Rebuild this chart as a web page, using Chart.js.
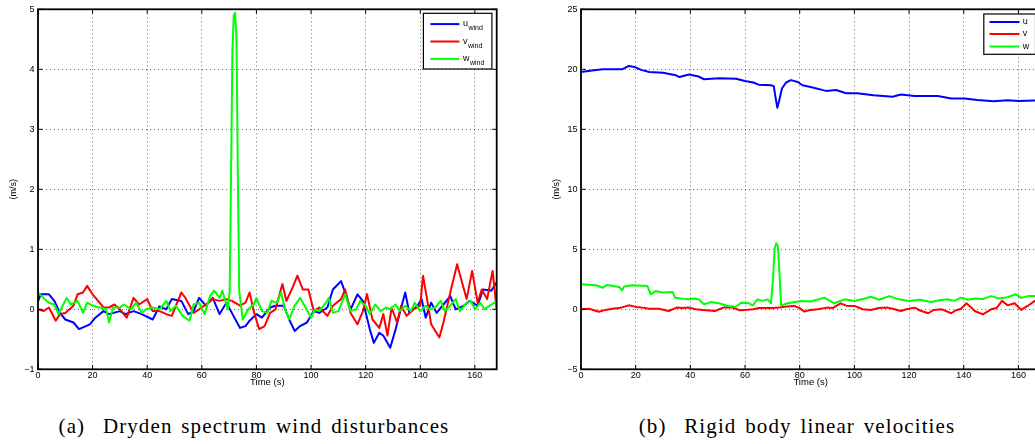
<!DOCTYPE html>
<html>
<head>
<meta charset="utf-8">
<script src="https://cdn.jsdelivr.net/npm/chart.js@4.4.0/dist/chart.umd.min.js"></script>
<style>
  html, body { margin: 0; padding: 0; background: #fff; overflow: hidden; width: 1035px; height: 444px; }
  .panel { position: absolute; top: 0; width: 520px; height: 388px; }
  .caption { position: absolute; top: 416px; line-height: 21px; font-family: 'Liberation Serif', serif; font-size: 21px; letter-spacing: 1.1px; word-spacing: 2.5px; white-space: nowrap; transform: translateX(-50%); color: #000; }
</style>
</head>
<body>
<div class="panel" style="left:0"><canvas id="windChart"></canvas></div>
<div class="panel" style="left:543px"><canvas id="bodyChart"></canvas></div>
<div class="caption" style="left:254px">(a)&nbsp; Dryden spectrum wind disturbances</div>
<div class="caption" style="left:797px">(b)&nbsp; Rigid body linear velocities</div>
<script>
// --- (a) Dryden wind disturbances ---
const uWindT = [0,1,4,6,8,10,13,15,16.5,19,21,24,26,30,32,35,38,42,44.5,47,49,52.5,55,57,59,61.5,64,66.5,69,71,74,76,77.5,80,82,85,87,90,92,94,96,98.5,101,103,106,108,111,112.5,114.5,117,119,121.5,123,125,126.5,129,131,132.5,134.5,136,139,140.5,142,144,146,148.5,151,153,156,158,161,163,166,168];
const uWind = [0.13,0.25,0.25,0.14,-0.06,-0.17,-0.22,-0.33,-0.30,-0.25,-0.14,-0.03,-0.08,-0.03,-0.08,-0.03,-0.08,-0.17,0.05,0.0,0.17,0.14,-0.08,-0.03,0.19,0.06,0.19,-0.08,0.11,-0.06,-0.31,-0.28,-0.19,-0.08,-0.14,0.03,0.06,0.06,-0.17,-0.36,-0.28,-0.22,-0.03,-0.06,0.03,0.33,0.47,0.28,0.0,0.25,0.14,-0.33,-0.56,-0.39,-0.44,-0.64,-0.33,-0.06,0.28,-0.06,0.06,0.17,-0.14,0.11,-0.06,0.08,0.22,0.0,0.06,0.14,0.06,0.33,0.31,0.45];

const vWindT = [0,2,4,6.5,8,10,13,14.5,16.5,18,20,22,24,26,28,30,32.5,35,37,40,42,44.5,47,49,52.5,54,57,59,61.5,64,66.5,69,71,74,76,77.5,79,81,83,85,87,89.5,91,93.5,95,97,99,101,103,106,108,111,112.5,114.5,117,119,120.5,122.5,125,126.5,128,129.5,131.5,133,135,137.5,140,141,142.5,144,147,148.5,151,153.5,155,157,159,161,162.5,164.5,166.5,168];
const vWind = [0.0,-0.03,0.03,-0.19,-0.08,-0.06,0.06,0.25,0.28,0.39,0.25,0.14,0.03,0.03,0.08,0.0,-0.14,0.19,0.08,0.17,-0.03,-0.03,-0.08,-0.11,0.28,0.19,-0.06,0.0,0.08,0.17,0.14,0.17,0.14,0.06,0.11,0.28,-0.03,-0.33,-0.28,-0.06,0.0,0.42,0.14,0.39,0.56,0.33,0.33,-0.03,0.03,-0.11,0.06,0.17,0.33,-0.06,-0.25,-0.03,0.25,-0.17,-0.31,-0.08,-0.44,0.03,-0.22,0.06,-0.11,0.0,0.06,0.56,0.17,-0.25,-0.47,-0.22,0.28,0.75,0.5,0.17,0.64,0.11,0.33,0.17,0.64,0.0];

const wWindT = [0,2,4,6,7.5,9,10.5,12,14.5,16.5,18,20,22.5,25,26,27.5,30,31.5,34,36,38,39.5,42,44.5,47,48.5,50.5,53,55.5,57,59,61,63,64.5,66.5,67.5,69.5,70.2,70.7,71.2,71.7,72.2,72.7,73.2,73.7,75,77,79,80,82,84,85.5,87.5,89,90.5,92,94,96,98,100,101.5,103,105.5,106.5,108,110,112.5,114.5,116.5,118,120,121.5,123.5,125.5,127.5,129,131,132.5,134.5,136.5,138,140,142,143.5,145.5,147.5,149,151,153,154.5,156.5,158.5,160,162,163.5,165.5,168];
const wWind = [0.28,0.19,0.11,0.08,-0.08,0.06,0.19,0.08,0.14,-0.06,0.11,0.06,0.03,0.0,-0.22,0.03,0.03,0.08,0.0,0.11,-0.06,0.0,0.03,0.0,0.14,-0.03,0.06,-0.11,-0.19,0.08,0.11,-0.08,0.22,0.31,0.19,0.31,0.0,0.3,2.2,4.3,4.9,4.94,4.5,2.2,0.3,-0.17,0.0,0.08,0.19,-0.03,-0.06,0.14,0.11,0.28,0.0,-0.17,0.06,0.19,0.03,-0.14,0.0,-0.03,0.11,0.19,-0.06,-0.03,0.25,-0.03,0.0,0.14,0.06,-0.08,0.08,-0.03,0.03,0.0,0.08,-0.03,0.06,-0.03,0.11,-0.03,0.06,0.0,0.03,0.14,-0.03,0.06,0.17,-0.03,0.08,0.14,0.0,0.11,0.0,0.06,0.14];

// --- (b) rigid body linear velocities ---
const uBodyT = [0,4,8,12,15,17.5,19.5,22,25,30,34.7,36,39.5,43,45,50.5,56.7,60,63,65,69.5,70.5,71.2,71.8,72.5,73.5,75,76.8,79.3,81,84,89.6,93.3,97,101,107,114,117,122,130.5,135.5,140.3,145,151,156,160,166,168];
const uBody = [19.78,19.9,20.0,20.0,20.0,20.28,20.2,19.95,19.78,19.72,19.5,19.36,19.56,19.4,19.17,19.25,19.22,19.03,18.9,18.72,18.67,18.6,17.6,16.8,17.4,18.4,18.9,19.1,18.94,18.67,18.53,18.2,18.28,18.0,18.0,17.83,17.72,17.9,17.78,17.78,17.56,17.56,17.44,17.33,17.42,17.36,17.39,17.4];

const vBodyT = [0,3,6.5,9,11.5,14,17.5,20,22.5,25,28.5,32,35,37,39.5,42,44.5,47,49,52,55.5,58,60,63,65,67.5,70,72.5,74.4,78,80,81.7,84,86.6,90,92,95,97,100,103,106,109,112,114,117,119,122,124,127,129,132,135.4,137,139,141,142.5,144,147,150,152,154,156,158.6,161,163.5,166,168];
const vBody = [0.0,0.05,-0.2,-0.05,0.05,0.1,0.33,0.2,0.14,0.05,0.05,-0.14,0.14,0.1,0.14,0.0,-0.05,-0.1,-0.14,0.14,0.14,-0.08,-0.05,0.0,0.1,0.1,0.1,0.14,0.22,0.28,0.1,-0.19,-0.05,0.0,0.14,0.1,0.5,0.3,0.28,0.0,-0.05,0.1,0.14,0.05,-0.14,0.0,0.14,-0.1,-0.33,-0.05,0.0,-0.33,-0.1,0.05,0.5,0.2,-0.14,-0.42,0.0,0.1,0.7,0.33,0.5,-0.05,0.3,0.7,0.9];

const wBodyT = [0,5.4,8,9.6,14,15,15.8,18.8,24.3,25.5,27.4,30,33.5,34.4,37,39.5,41.4,43,45,47.5,50.5,53.6,56.7,58.5,61.5,62.8,64.6,66.4,68.3,69.5,70.2,70.8,71.4,72,72.6,73.2,75.6,80.5,84,89,92.7,96.4,100,103,106,109,112.8,116,119.6,124,128,131,134,136.5,139,141.5,144,147,150,153,156,159,161,163.5,166,168];
const wBody = [2.08,2.0,1.8,2.03,1.86,1.58,1.9,2.0,1.94,1.25,1.53,1.39,1.45,0.97,0.89,0.83,0.9,0.83,0.42,0.6,0.5,0.28,0.22,0.55,0.5,0.33,0.83,0.7,0.83,0.5,2.5,5.0,5.5,5.3,3.0,0.33,0.5,0.7,0.65,0.97,0.5,0.83,0.7,0.85,1.05,0.8,1.1,0.85,0.7,0.8,0.6,0.75,0.83,0.7,0.97,0.8,0.9,0.85,1.1,0.9,1.0,1.25,0.95,1.1,1.1,1.05];

const seriesColors = ['#0000ff', '#ff0000', '#00ff00'];
const windLabels = ['u', 'v', 'w'];
const bodyLabels = ['u', 'v', 'w'];
const timeMax = 168;

const toPoints = (t, v) => t.map((ti, i) => ({ x: ti, y: v[i] }));

// MATLAB style box, inward ticks and legend
const matlabFrame = {
  id: 'matlabFrame',
  afterDraw(chart, args, opts) {
    const { ctx, chartArea: a, scales: { x, y } } = chart;
    ctx.save();
    ctx.strokeStyle = '#000';
    ctx.lineWidth = 1;
    ctx.beginPath();
    x.ticks.forEach(t => {
      const px = x.getPixelForValue(t.value);
      ctx.moveTo(px, a.bottom); ctx.lineTo(px, a.bottom - 4.5);
      ctx.moveTo(px, a.top); ctx.lineTo(px, a.top + 4.5);
    });
    y.ticks.forEach(t => {
      const py = y.getPixelForValue(t.value);
      ctx.moveTo(a.left, py); ctx.lineTo(a.left + 4.5, py);
      ctx.moveTo(a.right, py); ctx.lineTo(a.right - 4.5, py);
    });
    ctx.stroke();
    ctx.lineWidth = 1.8;
    ctx.strokeRect(a.left, a.top, a.right - a.left, a.bottom - a.top);

    // legend
    const bx = a.right - opts.inset - opts.width;
    const by = a.top + opts.top;
    ctx.fillStyle = '#fff';
    ctx.fillRect(bx, by, opts.width, opts.height);
    ctx.lineWidth = 1.2;
    ctx.strokeRect(bx, by, opts.width, opts.height);
    opts.labels.forEach((lab, i) => {
      const ry = by + opts.rows[i];
      ctx.strokeStyle = seriesColors[i];
      ctx.lineWidth = 2;
      ctx.beginPath();
      ctx.moveTo(bx + opts.line[0], ry);
      ctx.lineTo(bx + opts.line[1], ry);
      ctx.stroke();
      ctx.fillStyle = '#000';
      ctx.textBaseline = 'alphabetic';
      ctx.textAlign = 'left';
      ctx.font = '9px "Liberation Sans", Arial, sans-serif';
      ctx.fillText(lab, bx + opts.textX, ry + 2.3);
      if (opts.sub) {
        const w = ctx.measureText(lab).width;
        ctx.font = '7px "Liberation Sans", Arial, sans-serif';
        ctx.fillText(opts.sub, bx + opts.textX + w + 0.5, ry + 6);
      }
    });
    ctx.restore();
  }
};

const tickFont = { family: '"Liberation Sans", Arial, sans-serif', size: 9 };
const minusLabel = v => (v < 0 ? '\u2212' + Math.abs(v) : String(v));

function makeOptions(yMin, yMax, yStep, padRight, legend) {
  return {
    responsive: true,
    maintainAspectRatio: false,
    animation: false,
    events: [],
    layout: { padding: { top: 9.3, right: padRight, left: 0, bottom: 0 } },
    plugins: { legend: { display: false }, tooltip: { enabled: false }, matlabFrame: legend },
    scales: {
      x: {
        type: 'linear', min: 0, max: timeMax,
        ticks: { stepSize: 20, includeBounds: false, color: '#000', font: tickFont, padding: 1, maxRotation: 0 },
        grid: { color: 'rgba(0,0,0,0.6)', lineWidth: 1, drawTicks: false },
        border: { display: false, dash: [1, 3] },
        title: { display: true, text: 'Time (s)', color: '#000', font: { family: tickFont.family, size: 9.5 }, padding: 0 },
        afterFit: s => { s.height = 18.7; }
      },
      y: {
        type: 'linear', min: yMin, max: yMax,
        ticks: { stepSize: yStep, includeBounds: false, color: '#000', font: tickFont, padding: 3.5, callback: minusLabel },
        grid: { color: 'rgba(0,0,0,0.6)', lineWidth: 1, drawTicks: false },
        border: { display: false, dash: [1, 3] },
        title: { display: true, text: '(m/s)', color: '#000', font: { family: tickFont.family, size: 9 }, padding: { top: 8, bottom: 0 } },
        afterFit: s => { s.width = 38; }
      }
    }
  };
}

function makeDatasets(times, values) {
  return times.map((t, i) => ({
    data: toPoints(t, values[i]),
    borderColor: seriesColors[i],
    borderWidth: 2,
    pointRadius: 0,
    tension: 0,
    borderJoinStyle: 'round',
    order: 3 - i
  }));
}

new Chart(document.getElementById('windChart'), {
  type: 'line',
  data: { datasets: makeDatasets([uWindT, vWindT, wWindT], [uWind, vWind, wWind]) },
  options: makeOptions(-1, 5, 1, 23.3, {
    labels: windLabels, sub: 'wind', inset: 4.8, top: 4, width: 68.5, height: 55.7,
    rows: [10.8, 28.2, 45.6], line: [7, 36], textX: 39.5
  }),
  plugins: [matlabFrame]
});

new Chart(document.getElementById('bodyChart'), {
  type: 'line',
  data: { datasets: makeDatasets([uBodyT, vBodyT, wBodyT], [uBody, vBody, wBody]) },
  options: makeOptions(-5, 25, 5, 22.7, {
    labels: bodyLabels, sub: '', inset: 4.8, top: 4.7, width: 51.7, height: 40.3,
    rows: [8, 20, 32.5], line: [5.7, 35.7], textX: 39
  }),
  plugins: [matlabFrame]
});
</script>
</body>
</html>
